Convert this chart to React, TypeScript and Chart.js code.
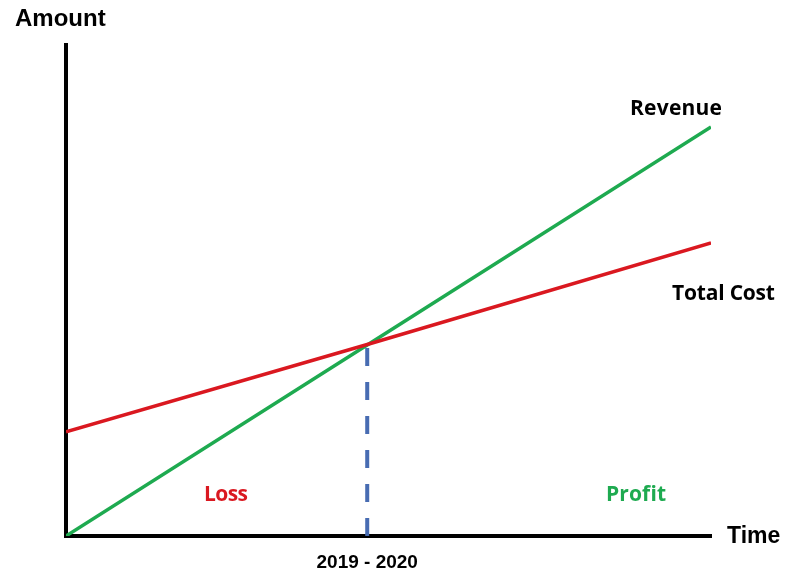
import React, { useEffect, useRef } from "react";
import { Chart, registerables } from "chart.js";

Chart.register(...registerables);

// Data (x in time units 0..10, y in amount units 0..100)
const timeRange = [0, 10];
const amountRange = [0, 100];
const revenueX = [0, 4.67, 10];
const revenueY = [0, 38.9, 83.3];
const costX = [0, 4.67, 10];
const costY = [21.2, 39.0, 59.7];
const breakEvenX = 4.67;
const breakEvenY = 38.9;
const breakEvenLabel = "2019 - 2020";
const axisTitles = ["Amount", "Time"];
const lineLabels = ["Revenue", "Total Cost"];
const zoneLabels = ["Loss", "Profit"];

const GREEN = "rgb(30,170,80)";
const RED = "rgb(218,24,32)";
const BLUE = "rgb(72,108,178)";

function fitText(ctx: any, text: string, x: number, y: number, width: number) {
  ctx.letterSpacing = "0px";
  const w = ctx.measureText(text).width;
  const n = Math.max(1, text.length - 1);
  const sp = (width - w) / n;
  ctx.letterSpacing = sp.toFixed(2) + "px";
  ctx.fillText(text, x, y);
  ctx.letterSpacing = "0px";
}

const labelsPlugin = {
  id: "labelsPlugin",
  afterDraw(chart: any) {
    const ctx = chart.ctx;
    const xs = chart.scales.x;
    ctx.save();
    ctx.textBaseline = "alphabetic";
    ctx.fillStyle = "#000";
    ctx.textAlign = "left";
    ctx.font = "bold 24px 'Liberation Sans', Arial, sans-serif";
    ctx.fillText(axisTitles[0], 15, 26);
    ctx.font = "bold 23px 'Liberation Sans', Arial, sans-serif";
    ctx.fillText(axisTitles[1], 727, 543);

    ctx.font = "bold 21px 'Open Sans', Lato, sans-serif";
    fitText(ctx, lineLabels[0], 630, 115, 92);
    fitText(ctx, lineLabels[1], 672, 300, 103);

    ctx.fillStyle = RED;
    fitText(ctx, zoneLabels[0], 204, 501, 44);
    ctx.fillStyle = GREEN;
    fitText(ctx, zoneLabels[1], 606, 501, 60);

    ctx.fillStyle = "#000";
    ctx.textAlign = "center";
    ctx.font = "bold 19px 'Liberation Sans', Arial, sans-serif";
    ctx.fillText(breakEvenLabel, xs.getPixelForValue(breakEvenX), 568);
    ctx.restore();
  },
};

export default function App() {
  const ref = useRef<HTMLCanvasElement>(null);
  useEffect(() => {
    if (!ref.current) return;
    const chart = new Chart(ref.current, {
      type: "line",
      data: {
        datasets: [
          {
            label: "Total Cost",
            data: costX.map((x, i) => ({ x, y: costY[i] })),
            borderColor: RED,
            borderWidth: 3.5,
            pointRadius: 0,
            fill: false,
          },
          {
            label: "Revenue",
            data: revenueX.map((x, i) => ({ x, y: revenueY[i] })),
            borderColor: GREEN,
            borderWidth: 3.5,
            pointRadius: 0,
            fill: false,
          },
          {
            label: "Break-even",
            data: [
              { x: breakEvenX, y: 0 },
              { x: breakEvenX, y: breakEvenY },
            ],
            borderColor: BLUE,
            borderWidth: 4,
            borderDash: [18, 16],
            pointRadius: 0,
            fill: false,
          },
        ],
      },
      options: {
        responsive: false,
        animation: false,
        layout: { padding: { left: 66, top: 45, right: 76, bottom: 38 } },
        plugins: { legend: { display: false }, tooltip: { enabled: false } },
        scales: {
          x: {
            type: "linear",
            min: timeRange[0],
            max: timeRange[1],
            grid: { display: false, drawTicks: false },
            ticks: { display: false },
            border: { display: true, color: "#000", width: 4 },
          },
          y: {
            type: "linear",
            min: amountRange[0],
            max: amountRange[1],
            grid: { display: false, drawTicks: false },
            ticks: { display: false },
            border: { display: true, color: "#000", width: 4 },
          },
        },
      },
      plugins: [labelsPlugin],
    });
    return () => chart.destroy();
  }, []);
  return (
    <div style={{ position: "fixed", left: 0, top: 0, width: 787, height: 574, background: "#fff" }}>
      <canvas ref={ref} width={787} height={574} />
    </div>
  );
}
